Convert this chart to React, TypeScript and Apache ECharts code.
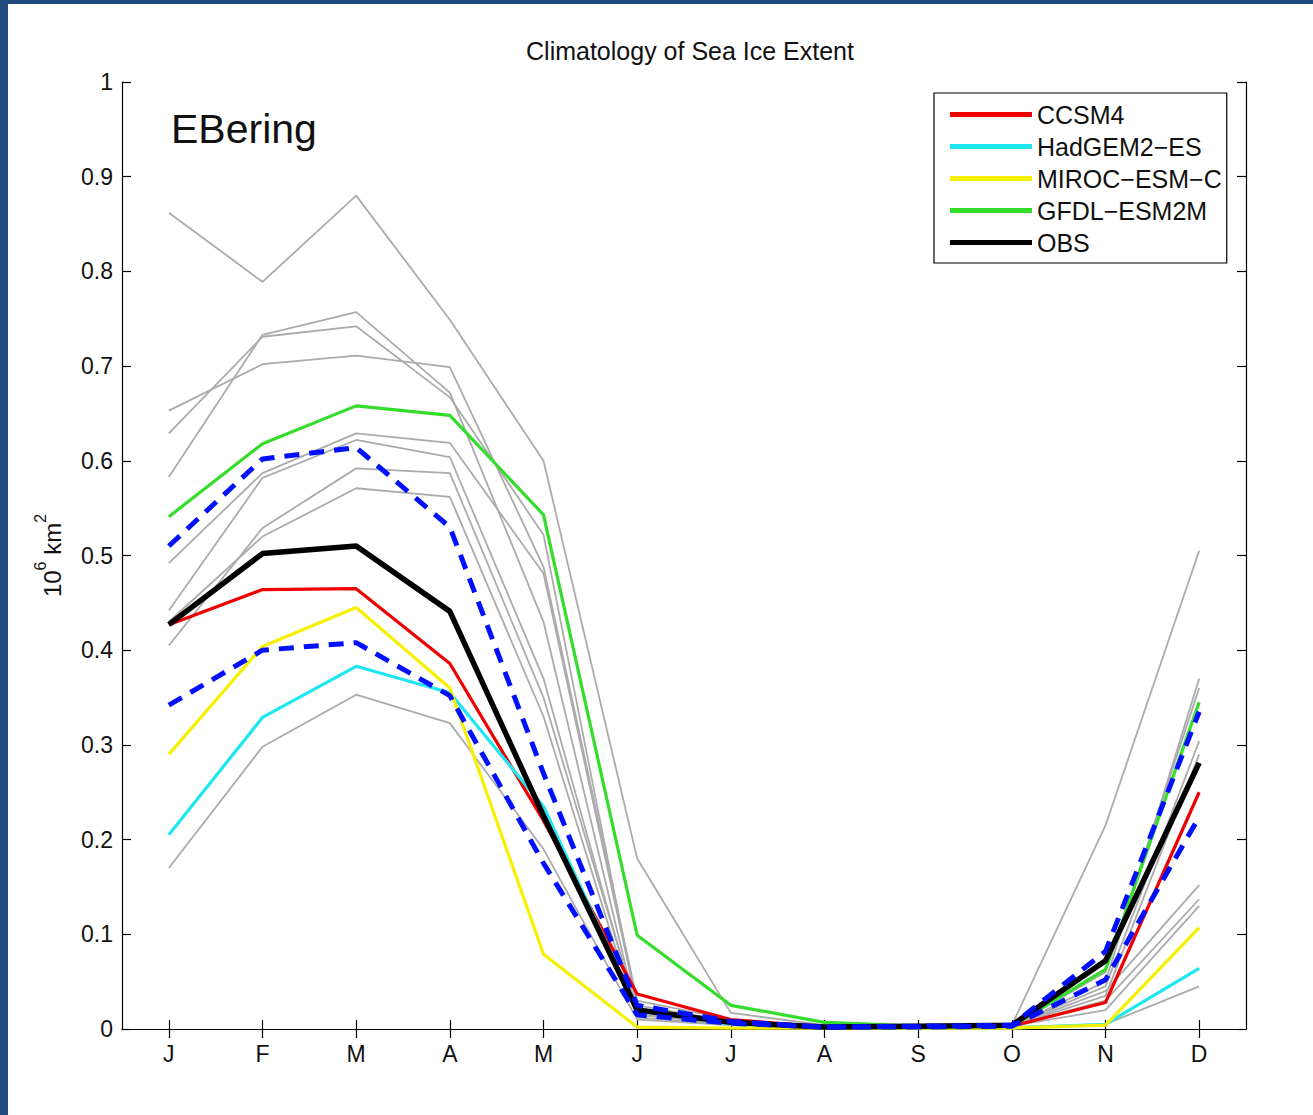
import React, { useEffect, useRef } from "react";
import * as echarts from "echarts";

const months = ["Jan", "Feb", "Mar", "Apr", "May", "Jun", "Jul", "Aug", "Sep", "Oct", "Nov", "Dec"];
const yTicks = [0, 0.1, 0.2, 0.3, 0.4, 0.5, 0.6, 0.7, 0.8, 0.9, 1];

// other CMIP5 models (gray)
const gray1 = [0.862, 0.789, 0.880, 0.749, 0.600, 0.180, 0.017, 0.004, 0.003, 0.004, 0.215, 0.505];
const gray2 = [0.653, 0.702, 0.711, 0.699, 0.488, 0.030, 0.010, 0.002, 0.002, 0.003, 0.050, 0.370];
const gray3 = [0.629, 0.731, 0.742, 0.667, 0.522, 0.022, 0.008, 0.002, 0.002, 0.003, 0.060, 0.360];
const gray4 = [0.583, 0.733, 0.757, 0.672, 0.430, 0.015, 0.006, 0.002, 0.002, 0.003, 0.045, 0.304];
const gray5 = [0.492, 0.587, 0.629, 0.619, 0.481, 0.025, 0.008, 0.002, 0.002, 0.003, 0.040, 0.152];
const gray6 = [0.442, 0.582, 0.622, 0.604, 0.370, 0.015, 0.006, 0.002, 0.002, 0.003, 0.030, 0.137];
const gray7 = [0.405, 0.529, 0.592, 0.587, 0.350, 0.020, 0.006, 0.002, 0.002, 0.003, 0.020, 0.130];
const gray8 = [0.430, 0.520, 0.571, 0.562, 0.330, 0.012, 0.005, 0.002, 0.002, 0.003, 0.035, 0.290];
const gray9 = [0.170, 0.298, 0.353, 0.323, 0.190, 0.010, 0.004, 0.001, 0.001, 0.002, 0.005, 0.045];
const grayModels = [gray1, gray2, gray3, gray4, gray5, gray6, gray7, gray8, gray9];

const ccsm4 = [0.427, 0.464, 0.465, 0.386, 0.220, 0.037, 0.010, 0.002, 0.002, 0.003, 0.028, 0.250];
const hadgem = [0.205, 0.329, 0.383, 0.355, 0.235, 0.020, 0.005, 0.001, 0.001, 0.001, 0.005, 0.064];
const miroc = [0.290, 0.404, 0.445, 0.360, 0.079, 0.002, 0.001, 0.001, 0.001, 0.001, 0.004, 0.107];
const gfdl = [0.541, 0.618, 0.658, 0.648, 0.543, 0.099, 0.025, 0.007, 0.003, 0.003, 0.063, 0.345];
const obs = [0.427, 0.502, 0.510, 0.441, 0.225, 0.020, 0.007, 0.002, 0.003, 0.004, 0.072, 0.281];
const obsUpper = [0.510, 0.602, 0.614, 0.530, 0.270, 0.025, 0.008, 0.002, 0.003, 0.004, 0.082, 0.335];
const obsLower = [0.342, 0.400, 0.408, 0.352, 0.175, 0.015, 0.006, 0.002, 0.002, 0.003, 0.052, 0.224];

const FONT = "'Liberation Sans', Arial, Helvetica, sans-serif";
const TXT = "#111";

export default function App() {
  const ref = useRef<HTMLDivElement>(null);

  useEffect(() => {
    document.body.style.margin = "0";
    if (!ref.current) return;
    const chart = echarts.init(ref.current, null, { renderer: "svg" });

    const line = (name: string, data: number[], color: string, width: number, extra: any = {}) => ({
      name,
      type: "line",
      data,
      symbol: "none",
      silent: true,
      itemStyle: { color },
      lineStyle: { color, width, ...extra },
    });

    const series: any[] = [];
    grayModels.forEach((g, i) => series.push(line("gray" + i, g, "#ababab", 1.8)));
    series.push(line("CCSM4", ccsm4, "#ee0000", 3.2));
    series.push(line("HadGEM2\u2212ES", hadgem, "#1ee6f2", 3.2));
    series.push(line("MIROC\u2212ESM\u2212C", miroc, "#f7f000", 3.2));
    series.push(line("GFDL\u2212ESM2M", gfdl, "#33dd2a", 3.2));
    series.push(line("OBS", obs, "#000000", 5.5));
    series.push(line("upper", obsUpper, "#0010ff", 5, { type: [15, 10] }));
    series.push(line("lower", obsLower, "#0010ff", 5, { type: [15, 10] }));

    const axisLine = { show: true, lineStyle: { color: "#000", width: 1.2 } };
    const tick = { show: true, inside: true, length: 9, lineStyle: { color: "#000", width: 1.2 } };

    chart.setOption({
      animation: false,
      backgroundColor: "transparent",
      textStyle: { fontFamily: FONT },
      title: {
        text: "Climatology of Sea Ice Extent",
        left: 685,
        textAlign: "center",
        top: 33,
        textStyle: { fontFamily: FONT, fontSize: 25, fontWeight: "normal", color: TXT },
      },
      grid: { left: 122, right: 67, top: 82, bottom: 86, containLabel: false },
      legend: {
        data: ["CCSM4", "HadGEM2\u2212ES", "MIROC\u2212ESM\u2212C", "GFDL\u2212ESM2M", "OBS"],
        orient: "vertical",
        left: 934,
        top: 93,
        icon: "rect",
        itemWidth: 82,
        itemHeight: 5,
        itemGap: 3,
        padding: [7, 5, 6, 16],
        borderColor: "#000",
        borderWidth: 1.2,
        backgroundColor: "#fff",
        selectedMode: false,
        textStyle: { fontFamily: FONT, fontSize: 25, lineHeight: 29, color: TXT },
      },
      graphic: [
        {
          type: "text",
          left: 171,
          top: 108,
          silent: true,
          style: { text: "EBering", fontFamily: FONT, fontSize: 41, fill: TXT },
        },
      ],
      xAxis: [
        {
          type: "category",
          data: months,
          boundaryGap: true,
          axisLine,
          axisTick: { ...tick, alignWithLabel: true },
          axisLabel: {
            formatter: (v: string) => v.charAt(0),
            fontFamily: FONT,
            fontSize: 23,
            color: TXT,
            margin: 13,
          },
          splitLine: { show: false },
        },
        {
          type: "category",
          data: months,
          position: "top",
          boundaryGap: true,
          axisLine,
          axisTick: { ...tick, alignWithLabel: true },
          axisLabel: { show: false },
          splitLine: { show: false },
        },
      ],
      yAxis: [
        {
          type: "value",
          min: 0,
          max: 1,
          interval: 0.1,
          axisLine,
          axisTick: tick,
          splitLine: { show: false },
          axisLabel: {
            formatter: (v: number) => {
              const r = Math.round(v * 10) / 10;
              return yTicks.includes(r) ? String(r) : "";
            },
            fontFamily: FONT,
            fontSize: 23,
            color: TXT,
            margin: 9,
          },
          name: "{n|10}{s|6}{n| km}{s|2}",
          nameLocation: "middle",
          nameRotate: 90,
          nameGap: 58,
          nameTextStyle: {
            rich: {
              n: { fontFamily: FONT, fontSize: 24, color: TXT, lineHeight: 32, verticalAlign: "bottom" },
              s: { fontFamily: FONT, fontSize: 16, color: TXT, lineHeight: 32, verticalAlign: "top" },
            },
          },
        },
        {
          type: "value",
          min: 0,
          max: 1,
          interval: 0.1,
          position: "right",
          axisLine,
          axisTick: tick,
          axisLabel: { show: false },
          splitLine: { show: false },
        },
      ],
      series,
    });

    return () => chart.dispose();
  }, []);

  return (
    <div style={{ position: "relative", width: 1313, height: 1115, background: "#1f4b7f", overflow: "hidden" }}>
      <div style={{ position: "absolute", left: 8, top: 4, right: 0, bottom: 0, background: "#fff" }} />
      <div ref={ref} style={{ position: "absolute", left: 0, top: 0, width: 1313, height: 1115 }} />
    </div>
  );
}
